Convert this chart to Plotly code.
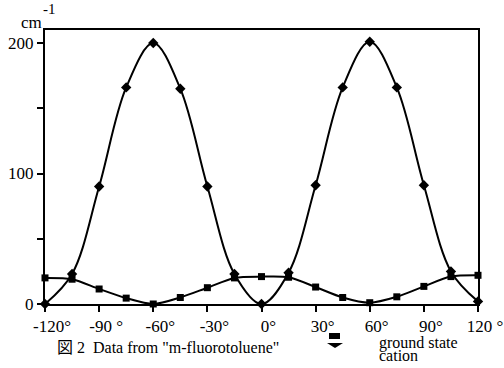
import plotly.graph_objects as go

angles = [-120, -105, -90, -75, -60, -45, -30, -15, 0, 15, 30, 45, 60, 75, 90, 105, 120]
ground_state = [20, 19, 11.5, 4.5, 0, 5, 12.5, 20, 21, 20.5, 13, 5, 1, 5.5, 13.5, 21, 22]
cation = [0, 23, 90, 166, 200, 165, 90, 23, 0, 24, 91, 166, 201, 166, 91, 25, 2]

x_tickvals = [-120, -90, -60, -30, 0, 30, 60, 90, 120]
x_ticktext = ["-120°", "-90 °", "-60°", "-30°", "0°", "30°", "60°", "90°", "120 °"]
y_tickvals = [0, 50, 100, 150, 200]
y_ticktext = ["0", "", "100", "", "200"]

FONT = "Liberation Serif, Times New Roman, Noto Sans CJK JP, serif"

W, H = 504, 368
L, R, T, B = 45, 26, 30, 64
pw, ph = W - L - R, H - T - B


def pos(px, py):
    """window pixel position (from top-left) -> paper coords"""
    return (px - L) / pw, ((H - py) - B) / ph


fig = go.Figure()
fig.add_trace(go.Scatter(
    x=angles, y=cation, mode="lines+markers", name="cation",
    line=dict(color="black", width=2, shape="spline", smoothing=1.0),
    marker=dict(symbol="diamond", size=8, color="black"),
    cliponaxis=False, showlegend=False))
fig.add_trace(go.Scatter(
    x=angles, y=ground_state, mode="lines+markers", name="ground state",
    line=dict(color="black", width=2, shape="spline", smoothing=0.8),
    marker=dict(symbol="square", size=7, color="black"),
    cliponaxis=False, showlegend=False))

fig.update_layout(
    width=W, height=H,
    margin=dict(l=L, r=R, t=T, b=B, autoexpand=False),
    paper_bgcolor="white", plot_bgcolor="white",
    font=dict(family=FONT, size=17, color="black"),
    showlegend=False,
)
fig.update_xaxes(
    range=[-120, 120], tickvals=x_tickvals, ticktext=x_ticktext,
    ticks="outside", ticklen=6, tickwidth=2, tickcolor="black",
    showline=True, linewidth=2, linecolor="black", mirror=True,
    showgrid=False, zeroline=False, ticklabelshift=7, automargin=False,
    ticklabeloverflow="allow",
    tickfont=dict(family=FONT, size=17),
)
fig.update_yaxes(
    range=[0, 210], tickvals=y_tickvals, ticktext=y_ticktext,
    ticks="outside", ticklen=6, tickwidth=2, tickcolor="black",
    showline=True, linewidth=2, linecolor="black", mirror=True,
    showgrid=False, zeroline=False, automargin=False,
    tickfont=dict(family=FONT, size=17),
)


def note(px, py, text, size, anchor="center"):
    x, y = pos(px, py)
    fig.add_annotation(x=x, y=y, xref="paper", yref="paper", text=text,
                       xanchor=anchor, yanchor="middle", showarrow=False,
                       font=dict(family=FONT, size=size))


note(31, 23, "cm", 17)
note(49, 9, "-1", 15)
note(55, 347, '図 2  Data from "m-fluorotoluene"', 16, "left")
note(377, 343, "ground state", 16, "left")
note(377, 355, "cation", 16, "left")

# legend symbols
sx0, sy0 = pos(329, 333)
sx1, sy1 = pos(340, 339)
fig.add_shape(type="rect", xref="paper", yref="paper", x0=sx0, y0=sy1, x1=sx1, y1=sy0,
              fillcolor="black", line=dict(width=0))
tx0, ty0 = pos(327, 343)
tx1, _ = pos(343, 343)
tmx, tmy = pos(335, 348)
fig.add_shape(type="path", xref="paper", yref="paper",
              path=f"M {tx0},{ty0} L {tx1},{ty0} L {tmx},{tmy} Z",
              fillcolor="black", line=dict(width=0))

fig.write_html("out.html",
               config={"displayModeBar": False},
               post_script="document.body.style.margin='0px';document.body.style.overflow='hidden';")
